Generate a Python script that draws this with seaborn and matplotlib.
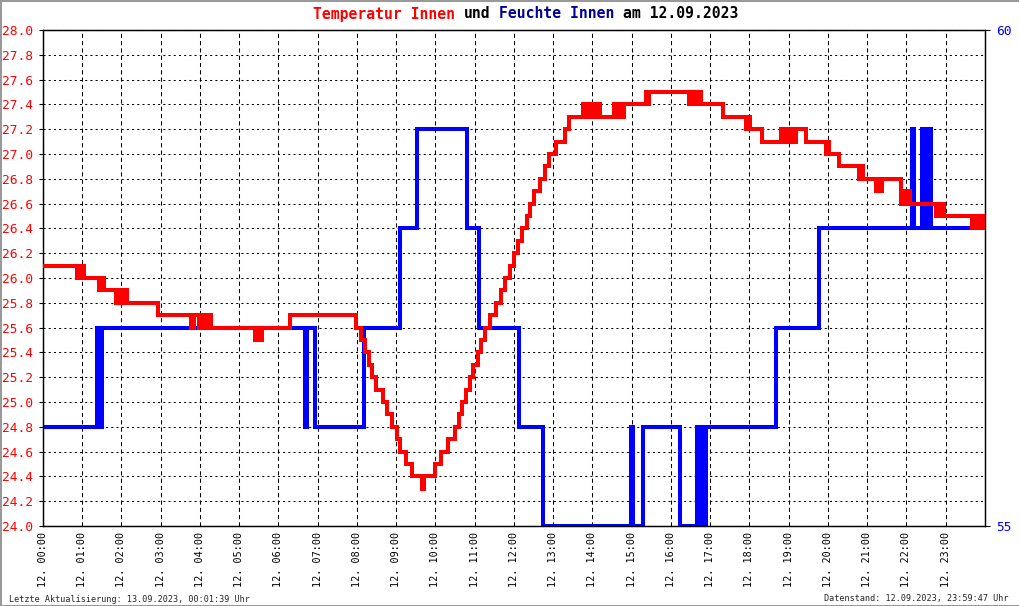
import numpy as np
import pandas as pd
import matplotlib
matplotlib.use("Agg")
import matplotlib.pyplot as plt
from matplotlib.patches import Rectangle
import seaborn as sns

# Temperatur Innen: Stufenwerte ab Uhrzeit (Stunden)
temp_hours = [0.00, 0.86, 0.90, 0.96, 1.01, 1.05, 1.43, 1.46, 1.50, 1.53, 1.56,
              1.86, 1.90, 2.00, 2.04, 2.09, 2.12, 2.15, 2.94, 3.78, 3.84, 3.97,
              4.02, 4.07, 4.12, 4.17, 4.22, 4.28, 5.40, 5.44, 5.48, 5.58, 6.30,
              7.98, 8.11, 8.20, 8.31, 8.39, 8.49, 8.66, 8.76, 8.90, 9.02, 9.10,
              9.26, 9.41, 9.66, 9.70, 9.98, 10.15, 10.32, 10.49, 10.60, 10.68,
              10.78, 10.87, 10.95, 11.08, 11.17, 11.25, 11.38, 11.55, 11.67,
              11.76, 11.90, 12.01, 12.10, 12.21, 12.33, 12.40, 12.52, 12.65,
              12.80, 12.90, 13.07, 13.29, 13.40, 13.75, 13.79, 13.85, 13.90,
              13.95, 14.02, 14.06, 14.12, 14.16, 14.20, 14.56, 14.60, 14.70,
              14.74, 14.79, 15.36, 15.40, 15.45, 16.45, 16.51, 16.55, 16.60,
              16.66, 16.70, 16.76, 17.33, 17.91, 17.95, 18.00, 18.33, 18.80,
              18.85, 18.92, 18.98, 19.05, 19.10, 19.18, 19.44, 19.95, 19.99,
              20.03, 20.29, 20.79, 20.84, 20.88, 21.22, 21.27, 21.32, 21.37,
              21.85, 21.90, 21.96, 22.03, 22.08, 22.76, 22.82, 22.88, 22.93,
              22.96, 23.68, 23.74, 23.80, 23.86, 23.92, 23.96, 24.00]
temp_values = [26.1, 26.0, 26.1, 26.0, 26.1, 26.0, 25.9, 26.0, 25.9, 26.0, 25.9,
               25.8, 25.9, 25.8, 25.9, 25.8, 25.9, 25.8, 25.7, 25.6, 25.7, 25.6,
               25.7, 25.6, 25.7, 25.6, 25.7, 25.6, 25.5, 25.6, 25.5, 25.6, 25.7,
               25.6, 25.5, 25.4, 25.3, 25.2, 25.1, 25.0, 24.9, 24.8, 24.7, 24.6,
               24.5, 24.4, 24.3, 24.4, 24.5, 24.6, 24.7, 24.8, 24.9, 25.0,
               25.1, 25.2, 25.3, 25.4, 25.5, 25.6, 25.7, 25.8, 25.9,
               26.0, 26.1, 26.2, 26.3, 26.4, 26.5, 26.6, 26.7, 26.8,
               26.9, 27.0, 27.1, 27.2, 27.3, 27.4, 27.3, 27.4, 27.3,
               27.4, 27.3, 27.4, 27.3, 27.4, 27.3, 27.4, 27.3, 27.4,
               27.3, 27.4, 27.5, 27.4, 27.5, 27.4, 27.5, 27.4, 27.5,
               27.4, 27.5, 27.4, 27.3, 27.2, 27.3, 27.2, 27.1, 27.2,
               27.1, 27.2, 27.1, 27.2, 27.1, 27.2, 27.1, 27.0, 27.1,
               27.0, 26.9, 26.8, 26.9, 26.8, 26.7, 26.8, 26.7, 26.8,
               26.6, 26.7, 26.6, 26.7, 26.6, 26.5, 26.6, 26.5, 26.6,
               26.5, 26.4, 26.5, 26.4, 26.5, 26.4, 26.5, 26.4]

# Feuchte Innen (%)
hum_hours = [0.00, 1.38, 1.41, 1.44, 1.47, 1.50, 6.67, 6.73, 6.93, 8.17, 9.09,
             9.52, 10.81, 11.12, 12.14, 12.75, 14.98, 15.02, 15.28, 16.23, 16.65,
             16.69, 16.73, 16.77, 16.80, 16.84, 16.88, 18.68, 19.78, 22.15, 22.20,
             22.40, 22.46, 22.57, 22.63, 24.00]
hum_values = [56, 57, 56, 57, 56, 57, 56, 57, 56, 57, 58,
              59, 58, 57, 56, 55, 56, 55, 56, 55, 56,
              55, 56, 55, 56, 55, 56, 57, 58, 59, 58,
              59, 58, 59, 58, 58]

hour_labels = [f"12. {h:02d}:00" for h in range(24)]
temp_ticks = np.round(np.arange(24.0, 28.01, 0.2), 1)
hum_ticks = [55, 60]

title_parts = [("Temperatur Innen", "#ff0000"), ("und", "black"),
               ("Feuchte Innen", "#000099"), ("am 12.09.2023", "black")]

sns.set_theme(style="white")
mono = ["DejaVu Sans Mono"]
plt.rcParams["font.family"] = mono

fig = plt.figure(figsize=(10.2, 6.06), dpi=100, facecolor="white")
ax = fig.add_axes([43 / 1020, 1 - 526 / 606, 942 / 1020, 496 / 606])
ax2 = ax.twinx()
ax3 = ax.twinx()

temp = pd.DataFrame({"Stunde": temp_hours, "Temperatur": temp_values})
hum = pd.DataFrame({"Stunde": hum_hours, "Feuchte": hum_values})

sns.lineplot(data=hum, x="Stunde", y="Feuchte", ax=ax2, color="#0000ff",
             lw=2.9, drawstyle="steps-post", estimator=None, sort=False,
             solid_joinstyle="miter")
sns.lineplot(data=temp, x="Stunde", y="Temperatur", ax=ax3, color="#ff0000",
             lw=2.9, drawstyle="steps-post", estimator=None, sort=False,
             solid_joinstyle="miter")

ax.set_xlim(0, 24)
ax.set_ylim(24, 28)
ax2.set_ylim(55, 60)
ax3.set_ylim(24, 28)
ax3.set_axis_off()

ax.set_xticks(range(24))
ax.set_xticklabels(hour_labels, rotation=90, fontsize=7.3, color="black")
ax.set_yticks(temp_ticks)
ax.set_yticklabels([f"{v:.1f}" for v in temp_ticks], fontsize=9.3)
ax.tick_params(axis="y", colors="black", labelcolor="#ff0000", length=3,
               width=0.8, direction="out", pad=4.3, left=True)
ax.tick_params(axis="x", length=0, pad=4.5)

ax2.set_yticks(hum_ticks)
ax2.set_yticklabels([str(v) for v in hum_ticks], fontsize=9.3)
ax2.tick_params(axis="y", colors="black", labelcolor="#0000ff", length=3.5,
                width=0.8, direction="out", pad=4.3, right=True)

ax.xaxis.grid(True, color="black", lw=0.75, linestyle=(0, (4, 3)))
ax.yaxis.grid(True, color="black", lw=0.75, linestyle=(0, (2, 3)))
for a in (ax, ax2, ax3):
    a.set_xlabel("")
    a.set_ylabel("")
for a in (ax, ax2):
    for s in a.spines.values():
        s.set_visible(True)
        s.set_color("black")
        s.set_linewidth(0.9)

# Titel in Farben (Festbreitenschrift)
title_size = 10.6
cw = title_size * 100 / 72 * 0.602
pos = 0
for text, col in title_parts:
    fig.text((313 + pos * cw) / 1020, 1 - 18.5 / 606, text, color=col,
             fontsize=title_size, fontweight="bold", ha="left", va="baseline",
             family=mono)
    pos += len(text) + 1

fig.text(9.5 / 1020, 1 - 601.5 / 606,
         "Letzte Aktualisierung: 13.09.2023, 00:01:39 Uhr",
         fontsize=6.1, ha="left", va="baseline", family=mono)
fig.text(1009 / 1020, 1 - 601.5 / 606,
         "Datenstand: 12.09.2023, 23:59:47 Uhr",
         fontsize=6.1, ha="right", va="baseline", family=mono)

fig.patches.append(Rectangle((0, 0), 1, 1, transform=fig.transFigure,
                             fill=False, edgecolor="#999999", lw=2.2))

fig.savefig("out.png", dpi=100, facecolor="white")
